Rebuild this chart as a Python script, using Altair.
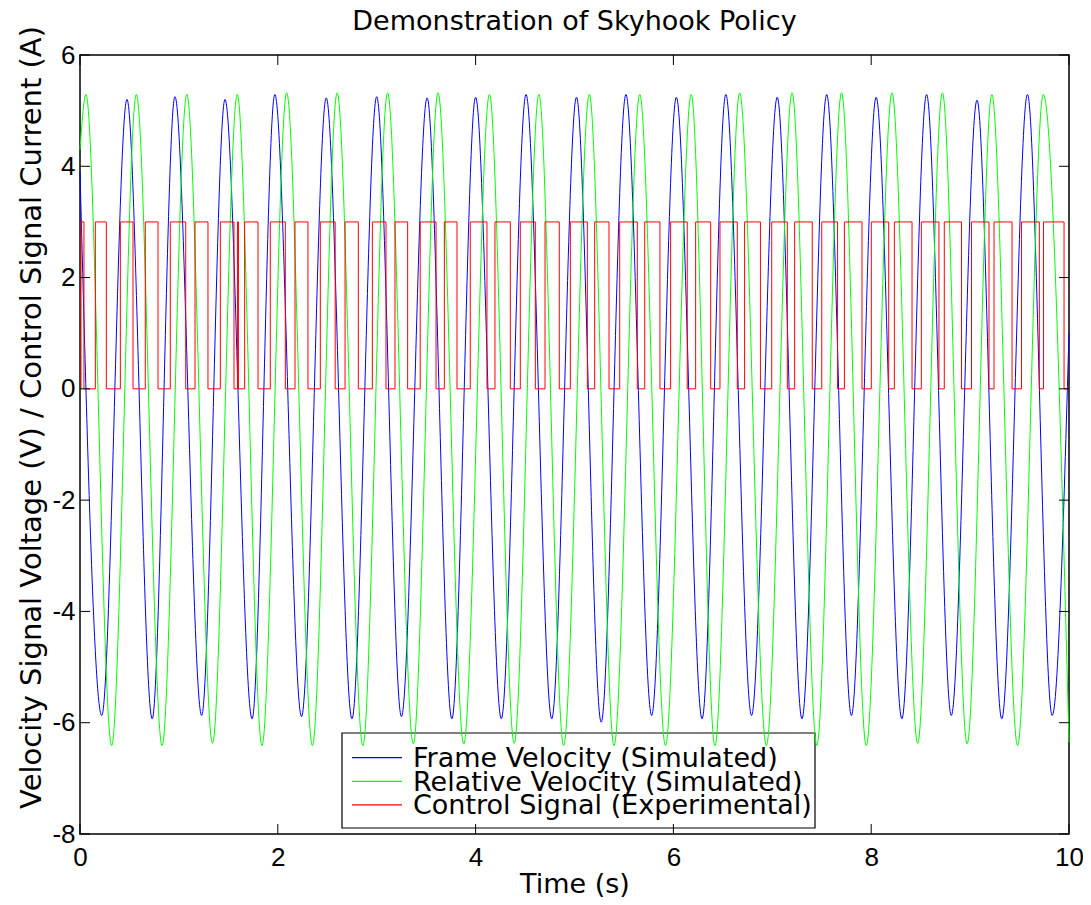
import altair as alt
import pandas as pd

# ---------------- text ----------------
title_text = "Demonstration of Skyhook Policy"
x_title = "Time (s)"
y_title = "Velocity Signal Voltage (V) / Control Signal Current (A)"
series_names = ["Frame Velocity (Simulated)", "Relative Velocity (Simulated)", "Control Signal (Experimental)"]
series_colors = ["#0000ff", "#00ff00", "#ff0000"]

x_ticks = [0, 2, 4, 6, 8, 10]
y_ticks = [-8, -6, -4, -2, 0, 2, 4, 6]

# ---------------- Frame velocity (blue): start, peaks, troughs, end ----------------
frame_start = [(0.0, 3.9)]
frame_peak_t = [0.475, 0.96, 1.466, 1.97, 2.49, 3.0, 3.51, 4.0, 4.51, 5.02, 5.52, 6.03,
                6.53, 7.05, 7.55, 8.05, 8.56, 9.07, 9.58]
frame_peak_v = [5.20, 5.25, 5.20, 5.29, 5.23, 5.25, 5.23, 5.24, 5.29, 5.24, 5.29, 5.24,
                5.29, 5.24, 5.29, 5.24, 5.29, 5.19, 5.29]
frame_trough_t = [0.22, 0.73, 1.23, 1.74, 2.24, 2.75, 3.25, 3.76, 4.26, 4.77, 5.27, 5.78,
                  6.29, 6.79, 7.30, 7.80, 8.31, 8.81, 9.32, 9.83]
frame_trough_v = [-5.87, -5.93, -5.87, -5.93, -5.89, -5.93, -5.89, -5.93, -5.93, -5.93, -5.99, -5.87,
                  -5.93, -5.87, -5.93, -5.87, -5.93, -5.87, -5.93, -5.87]
frame_end = [(10.0, 1.0)]

# ---------------- Relative velocity (green) ----------------
rel_start = [(0.0, 4.3)]
rel_peak_t = [0.06, 0.57, 1.08, 1.59, 2.09, 2.6, 3.11, 3.62, 4.14, 4.64, 5.15, 5.66,
              6.18, 6.67, 7.2, 7.7, 8.21, 8.72, 9.22, 9.74]
rel_peak_v = [5.29, 5.29, 5.29, 5.29, 5.32, 5.32, 5.32, 5.32, 5.29, 5.29, 5.29, 5.29,
              5.29, 5.32, 5.32, 5.32, 5.32, 5.32, 5.29, 5.29]
rel_trough_t = [0.32, 0.83, 1.34, 1.84, 2.35, 2.86, 3.37, 3.88, 4.39, 4.89, 5.40, 5.92,
                6.42, 6.94, 7.45, 7.95, 8.47, 8.97, 9.48]
rel_trough_v = [-6.41, -6.41, -6.37, -6.41, -6.41, -6.41, -6.38, -6.38, -6.37, -6.41, -6.41, -6.41,
                -6.41, -6.41, -6.41, -6.41, -6.37, -6.38, -6.41]
rel_end = [(10.0, -6.35)]

# ---------------- Control signal (red): switching times ----------------
control_high = 3.0
control_low = 0.0
control_on_t = [0.01, 0.155, 0.408, 0.66, 0.913, 1.163, 1.419, 1.592, 1.665, 1.924,
                2.174, 2.43, 2.68, 2.956, 3.185, 3.44, 3.684, 3.946, 4.196, 4.452,
                4.702, 4.958, 5.204, 5.457, 5.71, 5.972, 6.225, 6.471, 6.72, 6.994,
                7.226, 7.50, 7.729, 8.001, 8.234, 8.507, 8.739, 9.014, 9.242, 9.52, 9.742]
control_off_t = [0.04, 0.266, 0.536, 0.789, 1.069, 1.294, 1.557, 1.602, 1.80, 2.076,
                 2.305, 2.58, 2.814, 3.094, 3.313, 3.60, 3.812, 4.115, 4.351, 4.604,
                 4.846, 5.13, 5.349, 5.635, 5.864, 6.14, 6.377, 6.646, 6.88, 7.152,
                 7.404, 7.66, 7.907, 8.177, 8.413, 8.685, 8.913, 9.191, 9.424, 9.70, 9.95]


def wave_table(start, pt, pv, tt, tv, end):
    rows = list(start) + list(zip(pt, pv)) + list(zip(tt, tv)) + list(end)
    df = pd.DataFrame(rows, columns=["t", "v"]).sort_values("t").reset_index(drop=True)
    return df


frame_df = wave_table(frame_start, frame_peak_t, frame_peak_v, frame_trough_t, frame_trough_v, frame_end)
rel_df = wave_table(rel_start, rel_peak_t, rel_peak_v, rel_trough_t, rel_trough_v, rel_end)

ctrl_rows = [(0.0, control_low)]
for a, b in zip(control_on_t, control_off_t):
    ctrl_rows.append((a, control_high))
    ctrl_rows.append((b, control_low))
ctrl_rows.append((10.0, control_low))
ctrl_df = pd.DataFrame(ctrl_rows, columns=["t", "v"])

# ---------------- layout / style ----------------
W, H = 989, 779
FONT = "DejaVu Sans"
TICK_FONT = "Liberation Sans"
FS = 27
TFS = 26

xscale = alt.Scale(domain=[0, 10], nice=False, zero=False)
yscale = alt.Scale(domain=[-8, 6], nice=False, zero=False)

xaxis = alt.Axis(values=x_ticks, tickSize=0, domain=False, grid=False, labelFlush=False,
                 labelOverlap=False, labelFont=TICK_FONT, labelFontSize=TFS, labelColor="black",
                 labelPadding=10, labelExpr="'' + datum.value",
                 title=x_title, titleFont=FONT, titleFontSize=FS,
                 titleFontWeight="normal", titleColor="black", titleBaseline="alphabetic",
                 titleY=58, titleX=W / 2, titleAlign="center")
yaxis = alt.Axis(values=y_ticks, tickSize=0, domain=False, grid=False, labelFlush=False,
                 labelOverlap=False, labelFont=TICK_FONT, labelFontSize=TFS, labelColor="black",
                 labelPadding=5, labelExpr="'' + datum.value",
                 title=y_title, titleFont=FONT, titleFontSize=29,
                 titleFontWeight="normal", titleColor="black", titleAngle=270,
                 titleBaseline="alphabetic", titleAlign="center", titleX=-40, titleY=362)

X = alt.X("t:Q", scale=xscale, axis=xaxis)
Y = alt.Y("v:Q", scale=yscale, axis=yaxis)

one_row = pd.DataFrame({"k": [0]})

legend_box = alt.Chart(one_row).mark_rect(fill="white", stroke="black", strokeWidth=1.2).encode(
    x=alt.value(262), x2=alt.value(735), y=alt.value(678), y2=alt.value(773))

frame_line = alt.Chart(frame_df).mark_line(color=series_colors[0], strokeWidth=1,
                                            interpolate="monotone").encode(x=X, y=Y)
rel_line = alt.Chart(rel_df).mark_line(color=series_colors[1], strokeWidth=1,
                                        interpolate="monotone").encode(x=X, y=Y)
ctrl_line = alt.Chart(ctrl_df).mark_line(color=series_colors[2], strokeWidth=1,
                                          interpolate="step-after").encode(x=X, y=Y)

xt = pd.DataFrame({"t": x_ticks})
yt = pd.DataFrame({"v": y_ticks})
tick_bottom = alt.Chart(xt).mark_rule(color="black", strokeWidth=1).encode(
    x=X, y=alt.value(H), y2=alt.value(H - 10))
tick_top = alt.Chart(xt).mark_rule(color="black", strokeWidth=1).encode(
    x=X, y=alt.value(0), y2=alt.value(10))
tick_left = alt.Chart(yt).mark_rule(color="black", strokeWidth=1).encode(
    y=Y, x=alt.value(0), x2=alt.value(10))
tick_right = alt.Chart(yt).mark_rule(color="black", strokeWidth=1).encode(
    y=Y, x=alt.value(W), x2=alt.value(W - 10))

legend_layers = []
for i, (name, col) in enumerate(zip(series_names, series_colors)):
    ly = 702.7 + i * 23.6
    legend_layers.append(
        alt.Chart(one_row).mark_rule(color=col, strokeWidth=1.3).encode(
            x=alt.value(272), x2=alt.value(322), y=alt.value(ly)))
    legend_layers.append(
        alt.Chart(pd.DataFrame({"label": [name]})).mark_text(
            font=FONT, fontSize=FS, color="black", align="left", baseline="alphabetic").encode(
            text="label:N", x=alt.value(333), y=alt.value(ly + 9.5)))

title_layer = alt.Chart(pd.DataFrame({"label": [title_text]})).mark_text(
    font=FONT, fontSize=FS, color="black", align="center", baseline="alphabetic").encode(
    text="label:N", x=alt.value(W / 2), y=alt.value(-25))

chart = alt.layer(
    legend_box, frame_line, rel_line, ctrl_line,
    tick_bottom, tick_top, tick_left, tick_right,
    *legend_layers, title_layer
).properties(
    width=W, height=H,
    background="white",
    padding={"left": 72, "top": 47, "right": 14, "bottom": 63},
    autosize=alt.AutoSizeParams(type="none"),
).configure_view(stroke="black", strokeWidth=1.5)

chart.save("out.html", embed_options={"renderer": "svg", "actions": False})
